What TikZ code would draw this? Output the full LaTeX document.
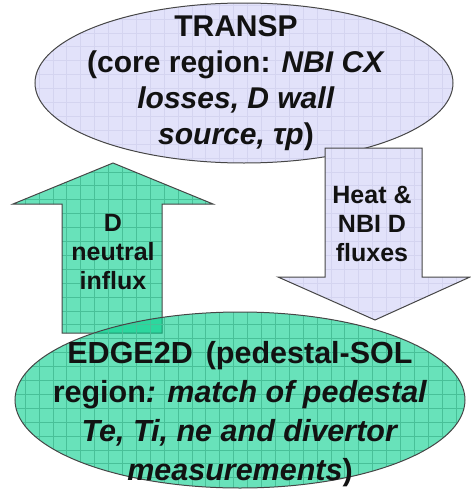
\documentclass[tikz,border=0pt]{standalone}
\usepackage{fontspec}
\setmainfont{Liberation Sans}
\definecolor{lav}{RGB}{226,226,250}
\definecolor{lavgrid}{RGB}{212,212,240}
\definecolor{mintbase}{RGB}{3,207,140}
\definecolor{mintgrid}{RGB}{72,192,152}
\definecolor{edgecol}{RGB}{70,70,70}
\definecolor{ink}{RGB}{18,18,18}
\newcommand\mygrid[1]{%
  \foreach \i in {0,...,35}{%
    \draw[#1,gridln] ({-2.8+13.9*\i},0) -- ({-2.8+13.9*\i},490);
    \draw[#1,gridln] (0,{5+13.9*\i}) -- (471,{5+13.9*\i});
  }}
\tikzset{
  outl/.style={draw=edgecol, line width=1pt, line join=miter},
  gridln/.style={line width=0.5pt},
  txt/.style={text=ink, align=center, inner sep=0pt},
  bigtxt/.style={txt, font=\fontsize{30}{36}\selectfont\bfseries},
  bottxt/.style={txt, font=\fontsize{30.5}{39}\selectfont\bfseries},
  arrtxt/.style={txt, font=\fontsize{25}{29}\selectfont\bfseries},
  mintfill/.style={fill=mintbase, fill opacity=0.6},
}
\begin{document}
\begin{tikzpicture}[x=1pt,y=-1pt]
\useasboundingbox (0,0) rectangle (471,490);
% ---- top ellipse (TRANSP)
\coordinate (tc) at (244,83);
\fill[lav] (tc) ellipse [x radius=209, y radius=80];
\begin{scope}
  \clip (tc) ellipse [x radius=209, y radius=80];
  \mygrid{lavgrid}
\end{scope}
\draw[outl] (tc) ellipse [x radius=209, y radius=80];
% ---- up arrow (green)
\coordinate (ua1) at (62,333);
\coordinate (ua2) at (62,204);
\coordinate (ua3) at (13,204);
\coordinate (ua4) at (113,163);
\coordinate (ua5) at (213,204);
\coordinate (ua6) at (162,204);
\coordinate (ua7) at (162,333);
\fill[mintfill] (ua1) -- (ua2) -- (ua3) -- (ua4) -- (ua5) -- (ua6) -- (ua7) -- cycle;
\begin{scope}
  \clip (ua1) -- (ua2) -- (ua3) -- (ua4) -- (ua5) -- (ua6) -- (ua7) -- cycle;
  \mygrid{mintgrid}
\end{scope}
\draw[outl] (ua1) -- (ua2) -- (ua3) -- (ua4) -- (ua5) -- (ua6) -- (ua7) -- cycle;
% ---- down arrow (lavender)
\coordinate (da1) at (325,148);
\coordinate (da2) at (422,148);
\coordinate (da3) at (422,277);
\coordinate (da4) at (470,277);
\coordinate (da5) at (375,320);
\coordinate (da6) at (278,277);
\coordinate (da7) at (325,277);
\fill[lav] (da1) -- (da2) -- (da3) -- (da4) -- (da5) -- (da6) -- (da7) -- cycle;
\begin{scope}
  \clip (da1) -- (da2) -- (da3) -- (da4) -- (da5) -- (da6) -- (da7) -- cycle;
  \mygrid{lavgrid}
\end{scope}
\draw[outl] (da1) -- (da2) -- (da3) -- (da4) -- (da5) -- (da6) -- (da7) -- cycle;
% ---- bottom ellipse (EDGE2D)
\coordinate (bc) at (240,400);
\fill[mintfill] (bc) ellipse [x radius=225, y radius=88];
\begin{scope}
  \clip (bc) ellipse [x radius=225, y radius=88];
  \mygrid{mintgrid}
\end{scope}
\draw[outl] (bc) ellipse [x radius=225, y radius=88];
% ---- texts
\node[bigtxt] (transptxt) at (236,83)
  {TRANSP\\(core region: \textit{NBI CX}\\\textit{losses, D wall}\\\textit{source, τp})};
\node[arrtxt] (uptxt) at (113,252) {D\\neutral\\influx};
\node[arrtxt] (downtxt) at (372,224) {Heat \&\\NBI D\\fluxes};
\node[bottxt] (edgetxt) at (240,414)
  {EDGE2D\hspace{0.15em} (pedestal-SOL\\region\textit{: match of pedestal}\\\textit{Te, Ti, ne and divertor}\\\textit{measurements})};
\end{tikzpicture}
\end{document}
